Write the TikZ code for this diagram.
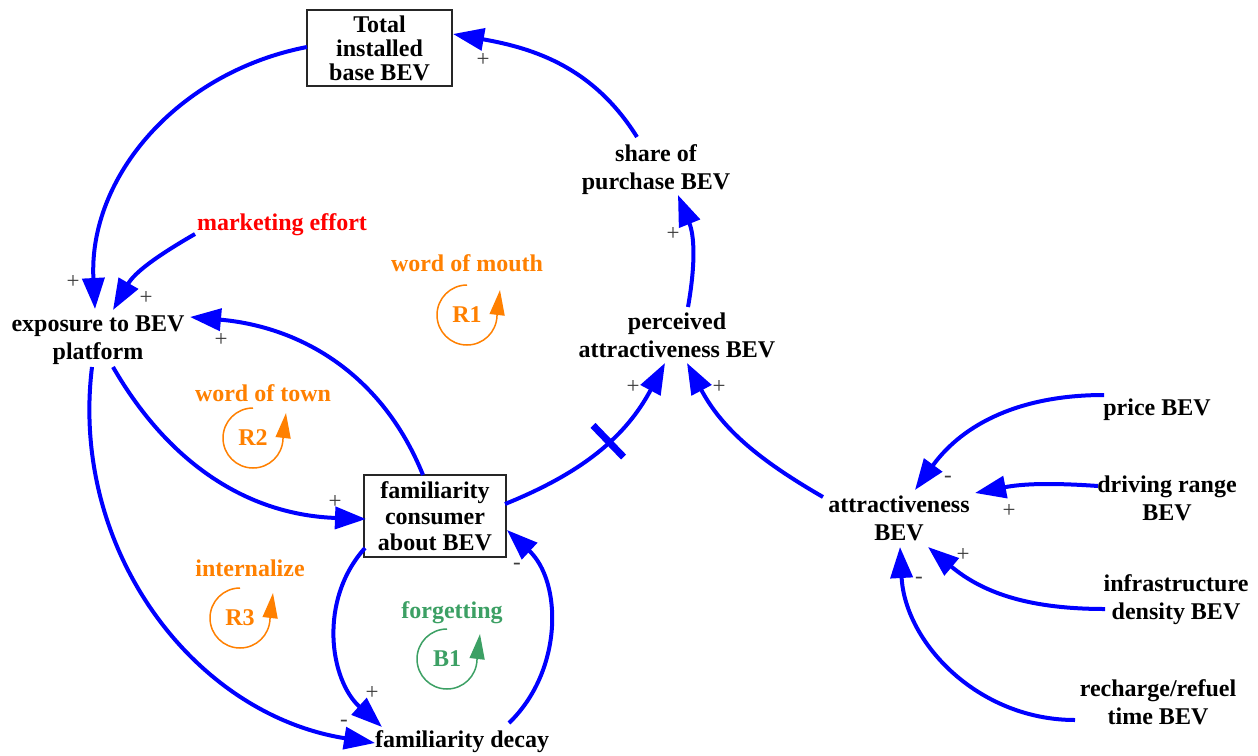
\documentclass[tikz,border=0pt]{standalone}
\usepackage{fontspec}
\setmainfont{Liberation Serif}
\usetikzlibrary{calc,arrows.meta}
\definecolor{linkblue}{RGB}{0,0,255}
\definecolor{looporange}{RGB}{255,128,0}
\definecolor{loopgreen}{RGB}{60,160,100}
\definecolor{signgray}{RGB}{60,60,60}

\begin{document}
\begin{tikzpicture}[x=1pt,y=-1pt,
  var/.style={align=center, font=\fontsize{24}{28}\selectfont\bfseries, inner sep=0pt},
  stock/.style={draw=black!85, line width=1.5pt, align=center, inner sep=0pt},
  link/.style={draw=linkblue, line width=4pt, -{Triangle[length=31pt,width=22pt]}},
  delaymark/.style={fill=linkblue, draw=none, rectangle, minimum width=7pt, minimum height=44pt, inner sep=0pt},
  sign/.style={font=\fontsize{23}{23}\selectfont, text=signgray, inner sep=0pt},
  looplabel/.style={font=\fontsize{24}{24}\selectfont\bfseries, inner sep=0pt},
  loopline/.style={line width=1.5pt, -{Triangle[length=25pt,width=15pt]}},
]
\fill[white] (0,0) rectangle (1258,755);
\useasboundingbox (0,0) rectangle (1258,755);

% variables
\node[stock, minimum width=145pt, minimum height=76pt, font=\fontsize{24}{24}\selectfont\bfseries] (total) at (379.5,48) {Total\\installed\\base BEV};
\node[var] (share) at (656,170) {share of\\purchase BEV};
\node[var, text=red] (marketing) at (282,225) {marketing effort};
\node[var] (exposure) at (98,340) {exposure to BEV\\platform};
\node[var] (perceived) at (677,335) {perceived\\attractiveness BEV};
\node[stock, minimum width=142pt, minimum height=82pt, font=\fontsize{24}{26}\selectfont\bfseries] (familiarity) at (435,516) {familiarity\\consumer\\about BEV};
\node[var] (decay) at (462,742) {familiarity decay};
\node[var] (attract) at (899,518) {attractiveness\\BEV};
\node[var] (price) at (1157,410) {price BEV};
\node[var] (range) at (1167,498) {driving range\\BEV};
\node[var] (infra) at (1176,600) {infrastructure\\density BEV};
\node[var] (recharge) at (1158,702) {recharge/refuel\\time BEV};

% loop names
\node[var, text=looporange] (mouth) at (467,263) {word of mouth};
\node[var, text=looporange] (town) at (263,393) {word of town};
\node[var, text=looporange] (internalize) at (250,568) {internalize};
\node[var, text=loopgreen] (forgetting) at (452,613) {forgetting};

% loop markers
\node[looplabel, text=looporange] (r1) at (467,315) {R1};
\draw[loopline, looporange] ($(r1)+(0,-30)$) arc[start angle=-90,end angle=-358,radius=30] -- ++(3,-26);
\node[looplabel, text=looporange] (r2) at (253,438) {R2};
\draw[loopline, looporange] ($(r2)+(0,-30)$) arc[start angle=-90,end angle=-358,radius=30] -- ++(3,-26);
\node[looplabel, text=looporange] (r3) at (240,618) {R3};
\draw[loopline, looporange] ($(r3)+(0,-30)$) arc[start angle=-90,end angle=-358,radius=30] -- ++(3,-26);
\node[looplabel, text=loopgreen] (b1) at (447,659) {B1};
\draw[loopline, loopgreen] ($(b1)+(0,-30)$) arc[start angle=-90,end angle=-358,radius=30] -- ++(3,-26);

% causal links (out/in angles are screen angles)
\draw[link] ($(share)+(-19,-33)$) to[out=122,in=-10] ($(total)+(73.5,-14)$);
\draw[link] ($(total)+(-72.5,-1)$) to[out=191,in=93] ($(exposure)+(-3,-31)$);
\draw[link] ($(marketing)+(-87,9)$) to[out=210,in=60] ($(exposure)+(15,-30)$);
\draw[link] ($(familiarity)+(-12,-41)$) to[out=112,in=-5] ($(exposure)+(92,-23)$);
\draw[link] ($(exposure)+(15,27)$) to[out=-60,in=178] ($(familiarity)+(-69,3)$);
\draw[link] ($(exposure)+(-6,27)$) to[out=-97,in=171] ($(decay)+(-87,1)$);
\draw[link] ($(familiarity)+(-70,32)$) to[out=228,in=138] ($(decay)+(-80,-15)$);
\draw[link] ($(decay)+(47,-19)$) to[out=44,in=-43] ($(familiarity)+(72,14)$);
\draw[link] ($(familiarity)+(70,-12)$) to[out=22,in=-118] node[delaymark, sloped, pos=0.56] (delay) {} ($(perceived)+(-12,28)$);
\draw[link] ($(perceived)+(11,-28)$) to[out=80,in=-68] ($(share)+(22,25)$);
\draw[link] ($(attract)+(-76,-21)$) to[out=150,in=-62] ($(perceived)+(10,28)$);
\draw[link] ($(price)+(-53,-15)$) to[out=180,in=54] ($(attract)+(16,-28)$);
\draw[link] ($(range)+(-69,-12)$) to[out=176,in=11] ($(attract)+(76,-25)$);
\draw[link] ($(infra)+(-71,9)$) to[out=180,in=-40] ($(attract)+(29,29)$);
\draw[link] ($(recharge)+(-83,18)$) to[out=180,in=-87] ($(attract)+(1,29)$);

% link polarities
\node[sign] (p1) at (483,60) {+};
\node[sign] (p2) at (73,282) {+};
\node[sign] (p3) at (146,298) {+};
\node[sign] (p4) at (221,340) {+};
\node[sign] (p5) at (335,502) {+};
\node[sign] (p6) at (344,723) {-};
\node[sign] (p7) at (372,693) {+};
\node[sign] (p8) at (517,566) {-};
\node[sign] (p9) at (633,387) {+};
\node[sign] (p10) at (673,234) {+};
\node[sign] (p11) at (719,387) {+};
\node[sign] (p12) at (948,479) {-};
\node[sign] (p13) at (1009,511) {+};
\node[sign] (p14) at (963,555) {+};
\node[sign] (p15) at (919,580) {-};
\end{tikzpicture}
\end{document}
